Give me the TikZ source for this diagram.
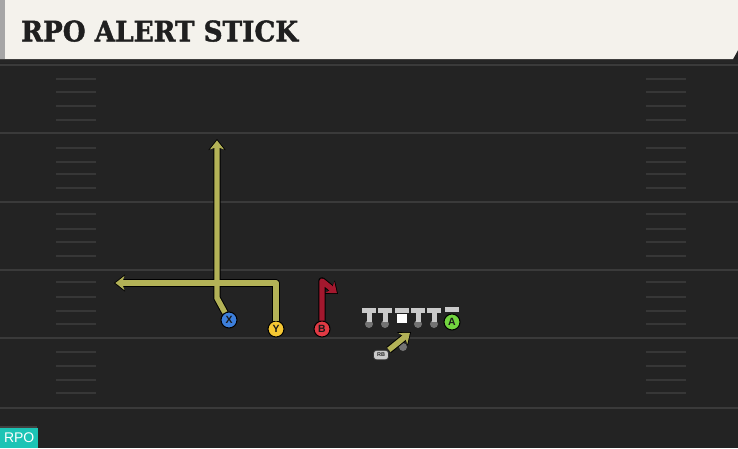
\documentclass[tikz,border=0pt]{standalone}
\usepackage{fontspec}
\usepackage{tikz}
\usetikzlibrary{
  	positioning,
  	arrows.meta,
  	calc
  }
\newfontfamily\titlefont{DejaVu Serif}[BoldFont={DejaVu Serif Bold},BoldFeatures={FakeBold=1.5}]
\newfontfamily\labelfont{Liberation Sans}
\definecolor{field}{HTML}{232323}
\definecolor{yardline}{HTML}{3A3A3A}
\definecolor{hashmark}{HTML}{373737}
\definecolor{banner}{HTML}{F4F2EC}
\definecolor{route}{HTML}{B3B257}
\definecolor{blitz}{HTML}{A3182E}
\definecolor{xblue}{HTML}{3D7FDB}
\definecolor{yyellow}{HTML}{F5C733}
\definecolor{bred}{HTML}{E03A44}
\definecolor{agreen}{HTML}{72D43F}
\definecolor{lineman}{HTML}{CACACA}
\definecolor{rpoteal}{HTML}{1CC4B5}
\tikzstyle{player}=[circle,draw=black,line width=1pt,inner sep=0pt,minimum size=16pt,text=black!90,font=\labelfont\bfseries\fontsize{10.5}{10.5}\selectfont]
\tikzstyle{routeedge}=[black,line width=7.4pt,line join=round,-{Stealth[length=11pt,width=17pt,inset=3pt]}]
\tikzstyle{routefill}=[line width=5.4pt,line join=round,shorten >=1.4pt,-{Stealth[length=9pt,width=14pt,inset=2.4pt]}]

\begin{document}
\begin{tikzpicture}[x=1pt,y=-1pt]
  \useasboundingbox (0,0) rectangle (738,448);
  \fill[field] (0,0) rectangle (738,448);
% yard lines and hashes
  \foreach \yl in {65,133,202,270,338,408}
    \draw[yardline,line width=1.8pt] (0,\yl) -- (738,\yl);
  \foreach \hy in {79,92,106,120,148,162,174,188,214,229,242,256,282,297,311,324,352,366,380,393} {
    \draw[hashmark,line width=1.5pt] (56,\hy) -- (96,\hy);
    \draw[hashmark,line width=1.5pt] (646,\hy) -- (686,\hy);
  }
% banner
  \fill[black!85] (0,59) rectangle (738,63);
  \fill[banner] (0,0) -- (738,0) -- (738,50) -- (733,59) -- (0,59) -- cycle;
  \fill[black!35] (0,0) rectangle (5,59);
  \node[anchor=south west,inner sep=0pt,text=black!88] (title) at (21,42)
    {\resizebox{277pt}{21pt}{\titlefont\bfseries RPO ALERT STICK}};
%
  \node[player,fill=xblue] (x) at (229,320) {X};
  \node[player,fill=yyellow] (y) at (276,329) {Y};
  \node[player,fill=bred] (b) at (322,329) {B};
  \coordinate (xbend) at (217,298);
  \coordinate (xend) at (217,139);
  \coordinate (ycorner) at (276,283);
  \coordinate (yend) at (114,283);
  \coordinate (bstem) at (322,281);
  \coordinate (bend) at (338,294);
  \draw[routeedge] (x) -- (xbend) -- (xend);
  \draw[routeedge] (y) -- (ycorner) -- (yend);
  \draw[routefill,route] (x) -- (xbend) -- (xend);
  \draw[routefill,route] (y) -- (ycorner) -- (yend);
  \draw[routeedge] (b) -- (bstem) -- (bend);
  \draw[routefill,blitz] (b) -- (bstem) -- (bend);
% line
  \foreach \lx in {369,385,418,434} {
    \fill[black!55] (\lx,324) circle (4);
    \fill[lineman] (\lx-2.5,311) rectangle (\lx+2.5,322);
    \fill[lineman] (\lx-7,308) rectangle (\lx+7,313);
  }
  \fill[lineman] (395,308) rectangle (409,313);
  \node[fill=white,inner sep=0pt,minimum size=9.5pt] (c) at (402,318.5) {};
  \fill[lineman] (445,307) rectangle (459,312);
  \node[player,fill=agreen] (a) at (452,322) {A};
% back
  \fill[black!55] (403,347) circle (4);
  \node[fill=lineman,draw=black!80,line width=0.7pt,rounded corners=3pt,inner sep=0pt,
    minimum width=15pt,minimum height=9.5pt,text=black!85,
    font=\labelfont\bfseries\fontsize{5.5}{5.5}\selectfont] (rb) at (381,355) {RB};
  \coordinate (rbend) at (411,332);
  \draw[routeedge] (rb.north east) -- (rbend);
  \draw[routefill,route] (rb.north east) -- (rbend);
%
  \fill[black!75] (0,426) rectangle (37,428);
  \node[fill=rpoteal,text=white,anchor=south west,inner sep=0pt,minimum width=38pt,
    minimum height=20pt,font=\labelfont\fontsize{14}{14}\selectfont] (rpo) at (0,448) {RPO};
\end{tikzpicture}
\end{document}
